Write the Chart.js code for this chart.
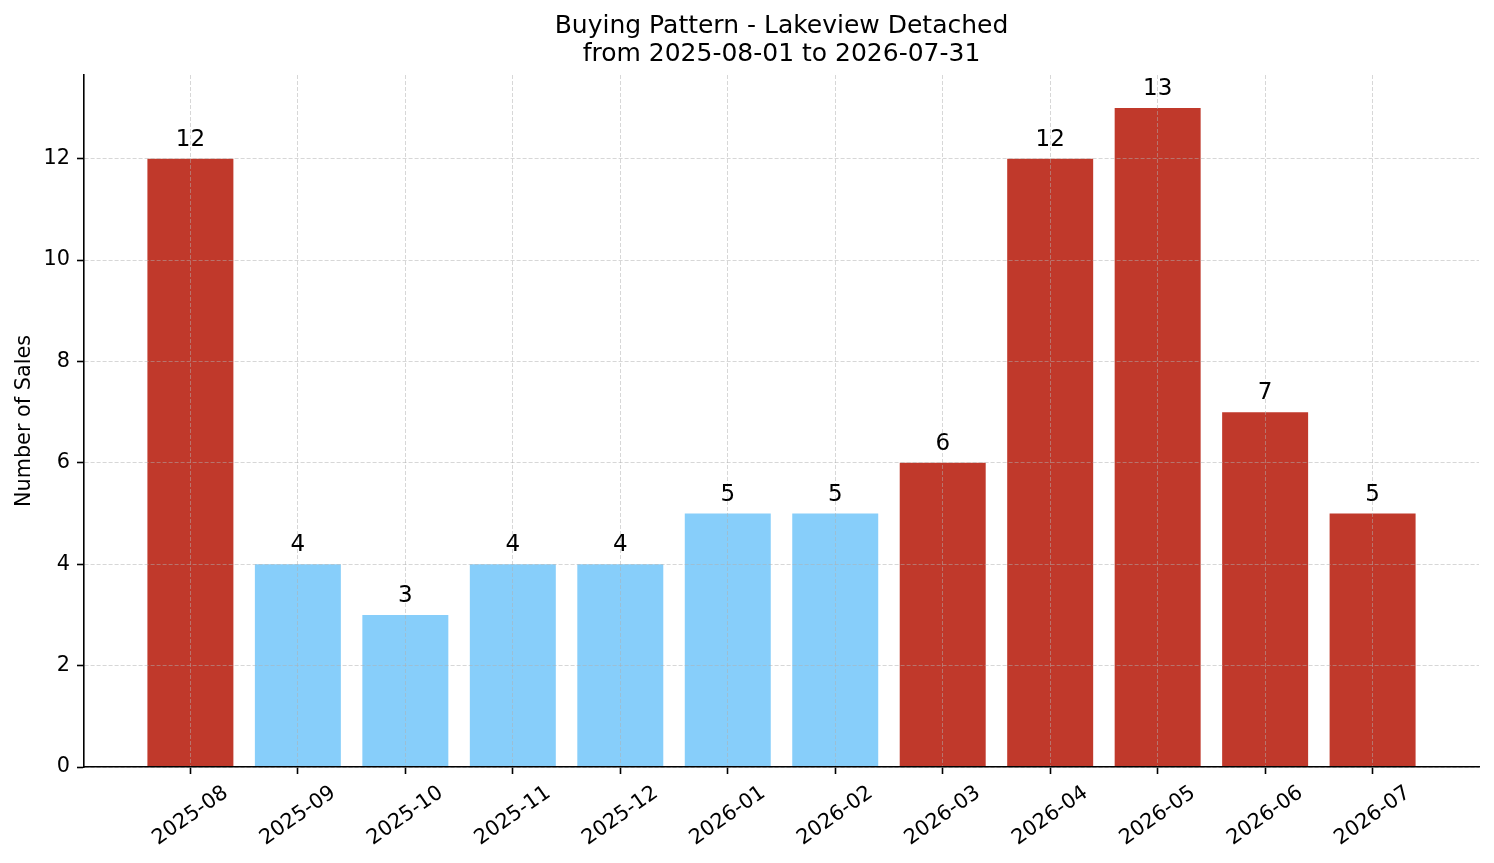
<!DOCTYPE html>
<html>
<head>
<meta charset="utf-8">
<title>Buying Pattern - Lakeview Detached</title>
<script src="https://cdn.jsdelivr.net/npm/chart.js@4/dist/chart.umd.min.js"></script>
<style>
  html, body { margin: 0; padding: 0; background: #fff; }
  #wrap { width: 1494px; height: 863px; position: relative; }
</style>
</head>
<body>
<div id="wrap"><canvas id="chart"></canvas></div>
<script>
// chart data
const months = ['2025-08', '2025-09', '2025-10', '2025-11', '2025-12', '2026-01',
                '2026-02', '2026-03', '2026-04', '2026-05', '2026-06', '2026-07'];
const sales = [12, 4, 3, 4, 4, 5, 5, 6, 12, 13, 7, 5];
// months drawn in red (busy season), the rest in light blue
const busyMonths = ['2025-08', '2026-03', '2026-04', '2026-05', '2026-06', '2026-07'];
const yTicks = [0, 2, 4, 6, 8, 10, 12];
const titleLines = ['Buying Pattern - Lakeview Detached', 'from 2025-08-01 to 2026-07-31'];

const RED = '#c0392b';
const BLUE = '#87cefa';
const FONT = 'DejaVu Sans';
const GRID = 'rgba(176,176,176,0.5)';

Chart.defaults.font.family = FONT;
Chart.defaults.color = '#000';

// value text above each bar
const valueLabels = {
  id: 'valueLabels',
  afterDraw(chart) {
    const ctx = chart.ctx;
    const meta = chart.getDatasetMeta(0);
    ctx.save();
    ctx.font = '23px "' + FONT + '"';
    ctx.fillStyle = '#000';
    ctx.textAlign = 'center';
    ctx.textBaseline = 'alphabetic';
    meta.data.forEach((bar, i) => {
      ctx.fillText(String(sales[i]), bar.x, bar.y - 13);
    });
    ctx.restore();
  }
};

// rotated month labels, centred under each tick like matplotlib does
const monthLabels = {
  id: 'monthLabels',
  afterDraw(chart) {
    const ctx = chart.ctx;
    const xs = chart.scales.x;
    const ang = 35 * Math.PI / 180;
    const size = 20.8;
    ctx.save();
    ctx.font = size + 'px "' + FONT + '"';
    ctx.fillStyle = '#000';
    ctx.textAlign = 'center';
    ctx.textBaseline = 'middle';
    months.forEach((m, i) => {
      const x = xs.getPixelForValue(i);
      const w = ctx.measureText(m).width;
      const h = size * 1.16;
      const boxH = w * Math.sin(ang) + h * Math.cos(ang);
      const top = chart.chartArea.bottom + 7 + 7;
      ctx.save();
      ctx.translate(x, top + boxH / 2);
      ctx.rotate(-ang);
      ctx.fillText(m, 0, 0);
      ctx.restore();
    });
    ctx.restore();
  }
};

new Chart(document.getElementById('chart'), {
  type: 'bar',
  data: {
    datasets: [{
      label: 'Sales',
      data: sales.map((v, i) => ({ x: i, y: v })),
      backgroundColor: months.map(m => busyMonths.includes(m) ? RED : BLUE),
      borderWidth: 0,
      barPercentage: 0.8,
      categoryPercentage: 1.0
    }]
  },
  options: {
    responsive: true,
    maintainAspectRatio: false,
    animation: false,
    layout: { padding: { left: 0, right: 15, top: 0, bottom: 0 } },
    plugins: {
      legend: { display: false },
      tooltip: { enabled: false },
      title: {
        display: true,
        fullSize: false,
        text: titleLines,
        color: '#000',
        font: { family: FONT, size: 25, weight: 'normal', lineHeight: 1.12 },
        padding: { top: 12, bottom: 7 }
      }
    },
    scales: {
      x: {
        type: 'linear',
        min: -0.99,
        max: 11.99,
        offset: false,
        afterBuildTicks: (scale) => { scale.ticks = months.map((m, i) => ({ value: i })); },
        afterFit: (scale) => { scale.height = 96; },
        ticks: { display: false },
        grid: {
          offset: false,
          color: GRID,
          lineWidth: 1,
          z: 1,
          drawTicks: true,
          tickLength: 7,
          tickColor: '#000',
          tickWidth: 1.6,
          tickBorderDash: []
        },
        border: { display: true, color: '#000', width: 1.6, dash: [4, 2], z: 2 }
      },
      y: {
        type: 'linear',
        min: 0,
        max: 13.65,
        afterBuildTicks: (scale) => { scale.ticks = yTicks.map(v => ({ value: v })); },
        afterFit: (scale) => { scale.width = 84; },
        ticks: {
          color: '#000',
          padding: 7,
          font: { family: FONT, size: 20.8 }
        },
        title: {
          display: true,
          text: 'Number of Sales',
          color: '#000',
          font: { family: FONT, size: 20.8 },
          padding: { top: 12, bottom: 0 }
        },
        grid: {
          color: GRID,
          lineWidth: 1,
          z: 1,
          tickLength: 7,
          tickColor: '#000',
          tickWidth: 1.6,
          tickBorderDash: []
        },
        border: { display: true, color: '#000', width: 1.6, dash: [4, 2], z: 2 }
      }
    }
  },
  plugins: [valueLabels, monthLabels]
});
</script>
</body>
</html>
